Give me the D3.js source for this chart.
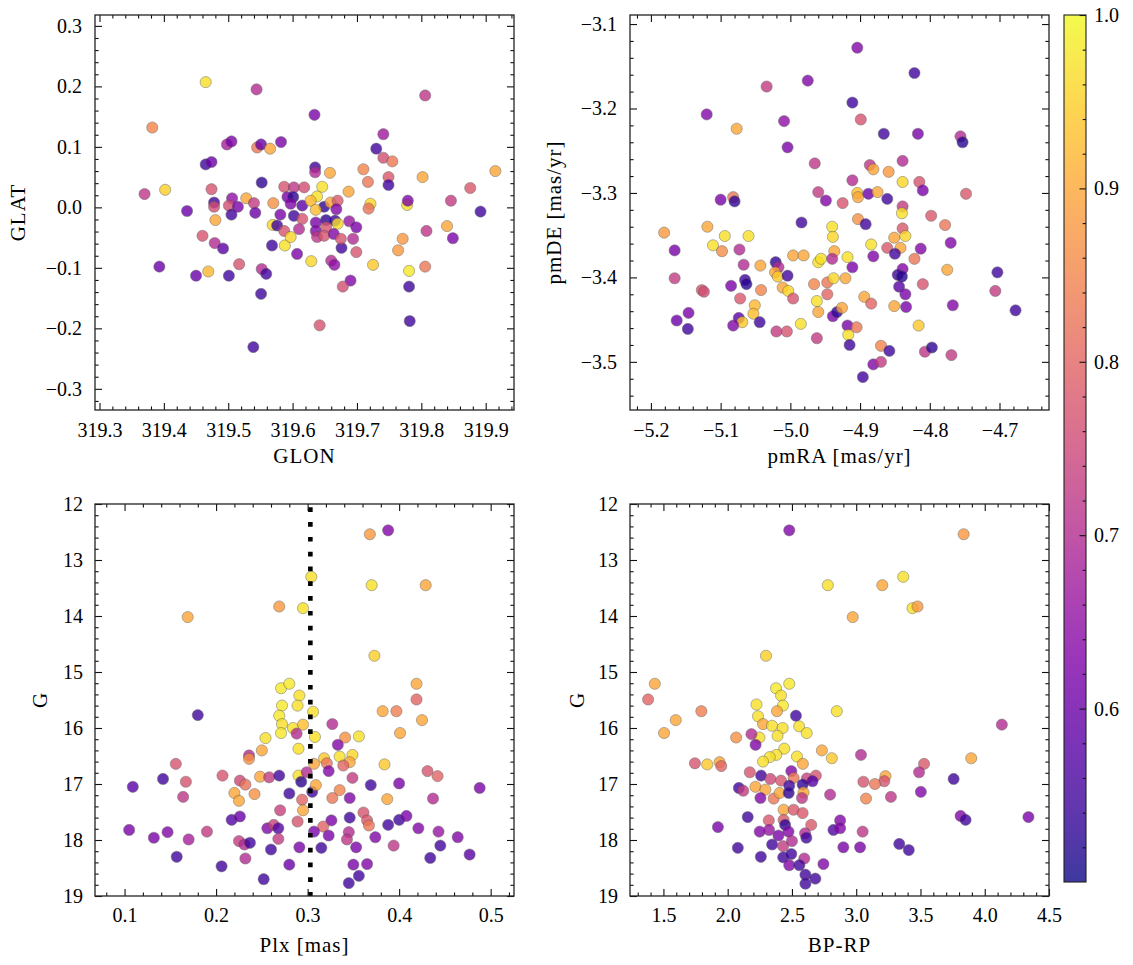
<!DOCTYPE html>
<html>
<head>
<meta charset="utf-8">
<script src="https://cdn.jsdelivr.net/npm/d3@7"></script>
<style>
  body { margin: 0; background: #fff; }
  text { font-family: "Liberation Serif", "DejaVu Serif", serif; }
</style>
</head>
<body>
<script>
// ---- data ----
// panel 1: galactic position
const glon = [319.465,319.544,319.382,319.498,319.505,319.545,319.551,319.565,319.582,319.465,319.474,319.552,319.370,319.402,319.474,319.506,319.528,319.478,319.478,319.501,319.515,319.540,319.570,319.436,319.505,319.542,319.480,319.460,319.479,319.492,319.568,319.588,319.607,319.393,319.517,319.469,319.450,319.501,319.552,319.559,319.551,319.539,
  319.806,319.634,319.741,319.730,319.741,319.755,319.635,319.635,319.658,319.710,319.717,319.749,319.749,319.802,319.915,319.876,319.687,319.646,319.721,319.718,319.778,319.779,319.846,319.892,319.840,319.808,319.849,319.771,319.764,319.688,319.699,319.694,319.676,319.699,319.629,319.660,319.665,319.725,319.781,319.806,319.781,319.690,319.678,319.782,319.642,319.666,319.652,
  319.587,319.602,319.618,319.638,319.592,319.601,319.597,319.615,319.628,319.649,319.659,319.670,319.668,319.581,319.602,319.615,319.636,319.569,319.576,319.587,319.610,319.636,319.636,319.652,319.670,319.597,319.638,319.649,319.664,319.675];
const glat = [0.207,0.195,0.132,0.104,0.109,0.099,0.104,0.097,0.108,0.071,0.075,0.041,0.022,0.029,0.030,0.015,0.015,0.008,0.001,0.003,0.001,0.007,0.007,-0.006,-0.012,-0.009,-0.021,-0.047,-0.059,-0.068,-0.063,-0.063,-0.077,-0.098,-0.094,-0.106,-0.113,-0.113,-0.102,-0.110,-0.143,-0.231,
  0.185,0.153,0.121,0.097,0.082,0.076,0.066,0.058,0.057,0.063,0.042,0.050,0.037,0.050,0.060,0.032,0.026,0.034,0.006,-0.002,0.004,0.011,0.011,-0.007,-0.031,-0.039,-0.051,-0.052,-0.071,-0.023,-0.033,-0.052,-0.067,-0.074,-0.089,-0.088,-0.095,-0.095,-0.105,-0.098,-0.131,-0.121,-0.131,-0.188,-0.195,-0.022,-0.021,
  0.034,0.033,0.033,0.018,0.017,0.017,0.006,0.003,0.011,0.001,0.008,0.011,-0.003,-0.012,-0.014,-0.019,-0.004,-0.029,-0.030,-0.039,-0.036,-0.025,-0.039,-0.033,-0.027,-0.049,-0.049,-0.047,-0.044,-0.052];
const probGal = [0.97,0.70,0.85,0.68,0.62,0.83,0.60,0.90,0.62,0.55,0.60,0.53,0.72,0.95,0.77,0.65,0.90,0.55,0.76,0.76,0.62,0.73,0.87,0.60,0.55,0.60,0.90,0.77,0.70,0.58,0.55,0.97,0.62,0.60,0.77,0.92,0.60,0.55,0.70,0.55,0.55,0.55,
  0.72,0.62,0.67,0.55,0.76,0.83,0.55,0.70,0.90,0.85,0.83,0.78,0.55,0.90,0.90,0.78,0.90,0.97,0.96,0.82,0.97,0.63,0.73,0.55,0.90,0.72,0.62,0.88,0.88,0.66,0.62,0.70,0.55,0.77,0.96,0.70,0.65,0.94,0.98,0.83,0.55,0.63,0.76,0.55,0.77,0.55,0.53,
  0.77,0.72,0.76,0.97,0.62,0.53,0.63,0.58,0.92,0.53,0.90,0.78,0.63,0.62,0.55,0.77,0.93,0.96,0.55,0.77,0.70,0.62,0.63,0.77,0.97,0.96,0.72,0.77,0.63,0.77];

// panel 2: proper motions
const pmra = [-4.975,-5.034,-5.120,-5.009,-5.077,-5.004,-4.965,-4.960,-4.949,-5.100,-5.082,-5.080,-4.984,-5.181,-5.119,-5.094,-5.060,-4.940,-4.939,-5.166,-5.111,-5.098,-5.073,-4.937,-4.996,-4.981,-5.067,-5.043,-5.021,-5.017,-5.022,-5.018,-4.960,-4.956,-4.940,-5.004,-5.166,-5.085,-5.065,-5.063,-5.042,-5.127,-5.124,-5.072,-5.011,-5.003,-4.996,-4.966,-4.947,-4.938,-4.947,-4.962,-5.051,-5.053,-4.960,-5.146,-5.163,-5.147,-5.074,-5.069,-5.082,-5.044,-4.985,-5.020,-5.005,-4.962,-4.939,-4.933,
  -4.904,-4.822,-4.911,-4.899,-4.866,-4.817,-4.756,-4.753,-4.839,-4.886,-4.881,-4.859,-4.911,-4.839,-4.815,-4.810,-4.748,-4.904,-4.903,-4.888,-4.875,-4.861,-4.925,-4.839,-4.840,-4.798,-4.778,-4.903,-4.892,-4.839,-4.851,-4.835,-4.842,-4.884,-4.861,-4.850,-4.881,-4.813,-4.770,-4.822,-4.918,-4.911,-4.839,-4.846,-4.840,-4.775,-4.703,-4.921,-4.844,-4.810,-4.835,-4.706,-4.894,-4.884,-4.851,-4.834,-4.767,-4.677,-4.926,-4.918,-4.917,-4.905,-4.915,-4.816,-4.870,-4.858,-4.807,-4.797,-4.769,-4.881,-4.870,-4.896];
const pmde = [-3.167,-3.174,-3.207,-3.215,-3.224,-3.246,-3.265,-3.299,-3.309,-3.308,-3.305,-3.310,-3.335,-3.347,-3.340,-3.351,-3.351,-3.340,-3.352,-3.368,-3.362,-3.369,-3.367,-3.369,-3.374,-3.374,-3.385,-3.386,-3.382,-3.388,-3.394,-3.399,-3.382,-3.378,-3.378,-3.398,-3.401,-3.410,-3.403,-3.408,-3.415,-3.415,-3.417,-3.425,-3.412,-3.416,-3.425,-3.408,-3.406,-3.401,-3.420,-3.428,-3.433,-3.443,-3.441,-3.442,-3.451,-3.461,-3.448,-3.453,-3.457,-3.453,-3.455,-3.464,-3.464,-3.472,-3.446,-3.441,
  -3.128,-3.158,-3.193,-3.213,-3.230,-3.230,-3.233,-3.240,-3.262,-3.267,-3.272,-3.275,-3.285,-3.287,-3.287,-3.297,-3.301,-3.300,-3.305,-3.301,-3.299,-3.307,-3.312,-3.316,-3.324,-3.327,-3.338,-3.331,-3.337,-3.342,-3.353,-3.351,-3.365,-3.361,-3.365,-3.372,-3.375,-3.366,-3.359,-3.378,-3.376,-3.388,-3.390,-3.397,-3.399,-3.391,-3.394,-3.401,-3.411,-3.408,-3.420,-3.416,-3.423,-3.431,-3.434,-3.435,-3.433,-3.439,-3.436,-3.457,-3.468,-3.459,-3.480,-3.457,-3.481,-3.487,-3.488,-3.483,-3.492,-3.503,-3.500,-3.518];
const probPm = [0.63,0.73,0.63,0.65,0.90,0.62,0.72,0.73,0.63,0.62,0.83,0.53,0.55,0.88,0.90,0.97,0.97,0.97,0.96,0.62,0.97,0.86,0.70,0.90,0.90,0.90,0.70,0.90,0.53,0.70,0.90,0.94,0.97,0.97,0.70,0.55,0.73,0.62,0.55,0.52,0.85,0.78,0.76,0.78,0.90,0.96,0.77,0.85,0.83,0.96,0.80,0.97,0.92,0.93,0.90,0.62,0.60,0.55,0.58,0.94,0.63,0.55,0.97,0.73,0.77,0.73,0.62,0.53,
  0.63,0.55,0.55,0.77,0.55,0.62,0.70,0.52,0.70,0.72,0.90,0.88,0.70,0.96,0.77,0.62,0.78,0.93,0.90,0.60,0.90,0.55,0.77,0.73,0.97,0.78,0.83,0.87,0.55,0.78,0.90,0.96,0.90,0.97,0.78,0.55,0.63,0.63,0.63,0.83,0.97,0.62,0.63,0.55,0.52,0.90,0.55,0.90,0.58,0.77,0.62,0.73,0.90,0.80,0.90,0.62,0.63,0.55,0.90,0.62,0.97,0.83,0.55,0.94,0.85,0.55,0.72,0.53,0.73,0.63,0.73,0.55];

// panel 3: parallax vs magnitude
const plx = [0.169,0.269,0.295,0.271,0.280,0.291,0.272,0.289,0.269,0.272,0.271,0.284,0.295,0.180,0.288,0.254,0.290,0.250,0.236,0.236,0.156,0.142,0.109,0.167,0.164,0.207,0.226,0.232,0.248,0.258,0.269,0.290,0.293,0.220,0.225,0.242,0.280,0.294,0.270,0.295,0.217,0.226,0.105,0.132,0.147,0.170,0.190,0.256,0.263,0.268,0.268,0.289,0.225,0.231,0.237,0.260,0.291,0.157,0.232,0.206,0.280,0.252,
  0.388,0.368,0.304,0.370,0.429,0.373,0.419,0.419,0.382,0.397,0.425,0.401,0.306,0.308,0.327,0.341,0.333,0.356,0.335,0.349,0.318,0.321,0.346,0.339,0.307,0.384,0.323,0.349,0.299,0.431,0.442,0.369,0.400,0.488,0.305,0.309,0.335,0.327,0.346,0.387,0.437,0.361,0.365,0.367,0.346,0.326,0.317,0.307,0.388,0.400,0.408,0.421,0.443,0.464,0.323,0.345,0.343,0.353,0.374,0.394,0.315,0.445,0.434,0.477,0.350,0.365,0.356,0.345];
const gPlx = [14.02,13.83,13.86,15.29,15.21,15.42,15.60,15.60,15.78,15.93,16.09,16.00,15.94,15.77,16.10,16.18,16.37,16.40,16.49,16.55,16.64,16.91,17.05,16.96,17.23,16.85,16.94,17.01,16.87,16.88,16.85,16.85,16.96,17.16,17.30,17.18,17.17,17.28,17.47,17.47,17.64,17.58,17.82,17.96,17.86,17.99,17.85,17.79,17.73,17.79,17.98,17.67,18.02,18.08,18.05,18.17,18.13,18.30,18.33,18.47,18.44,18.70,
  12.47,12.54,13.30,13.45,13.45,14.71,15.21,15.49,15.70,15.70,15.86,16.09,15.71,16.16,15.93,16.17,16.30,16.15,16.51,16.48,16.54,16.63,16.61,16.67,16.64,16.65,16.77,16.89,16.79,16.77,16.86,17.02,16.99,17.07,17.14,17.02,17.11,17.25,17.25,17.27,17.26,17.51,17.65,17.74,17.60,17.65,17.76,17.85,17.73,17.64,17.57,17.79,17.85,17.95,17.92,17.86,17.99,18.13,17.95,18.10,18.14,18.10,18.32,18.26,18.44,18.43,18.64,18.77];
const probPlx = [0.90,0.88,0.97,0.98,0.98,0.97,0.98,0.97,0.98,0.97,0.98,0.97,0.93,0.55,0.70,0.97,0.97,0.90,0.70,0.87,0.77,0.55,0.58,0.77,0.72,0.77,0.75,0.82,0.90,0.73,0.55,0.97,0.53,0.90,0.90,0.87,0.55,0.80,0.74,0.90,0.57,0.60,0.62,0.62,0.63,0.68,0.73,0.63,0.74,0.57,0.73,0.77,0.73,0.70,0.55,0.55,0.62,0.55,0.70,0.55,0.60,0.55,
  0.63,0.88,0.97,0.97,0.90,0.95,0.90,0.80,0.90,0.84,0.90,0.90,0.97,0.97,0.70,0.87,0.63,0.97,0.97,0.96,0.94,0.83,0.90,0.80,0.90,0.94,0.63,0.73,0.70,0.77,0.80,0.55,0.62,0.62,0.55,0.90,0.85,0.83,0.63,0.90,0.70,0.77,0.78,0.83,0.55,0.62,0.80,0.62,0.55,0.55,0.62,0.63,0.66,0.63,0.62,0.70,0.72,0.62,0.63,0.72,0.55,0.55,0.55,0.58,0.62,0.63,0.55,0.55];
const plxCut = 0.303;

// panel 4: colour-magnitude diagram
const bprp = [2.479,2.779,2.298,1.433,1.381,1.596,1.505,1.795,2.376,2.479,2.415,2.430,2.224,2.384,2.531,2.236,2.275,2.345,2.428,2.388,2.556,2.615,2.247,2.185,2.217,2.066,2.440,2.378,2.327,2.275,2.539,2.733,2.810,2.585,1.745,1.841,1.937,1.950,2.172,2.260,2.332,2.415,2.495,2.513,2.616,2.686,2.660,2.583,2.479,2.087,2.121,2.216,2.293,2.255,2.358,2.404,2.475,2.590,2.578,2.797,2.435,2.513,2.583,2.156,1.924,2.320,2.435,2.447,2.650,2.249,2.322,2.395,2.473,2.602,2.612,2.346,2.431,2.500,2.079,2.258,2.432,2.495,2.596,2.479,2.558,2.605,2.682,2.605,2.745,
  3.836,3.366,3.203,3.438,3.477,2.973,2.849,4.133,3.037,3.895,3.528,3.489,3.228,3.218,3.056,3.146,3.076,3.270,3.503,3.758,3.812,3.851,4.340,2.875,2.823,2.875,3.050,2.900,3.030,3.335,3.409];
const gCmd = [12.47,13.45,14.71,15.21,15.49,15.86,16.09,15.70,15.29,15.21,15.42,15.60,15.58,15.70,15.78,15.79,15.93,15.96,16.00,16.14,15.97,16.09,16.17,16.11,16.30,16.17,16.37,16.48,16.52,16.60,16.51,16.40,16.54,16.64,16.63,16.65,16.61,16.68,16.79,16.85,16.91,16.94,16.77,16.89,16.90,16.85,16.95,17.01,17.03,17.07,17.12,17.05,17.10,17.25,17.26,17.16,17.16,17.15,17.25,17.19,17.46,17.46,17.52,17.59,17.77,17.65,17.64,17.73,17.73,17.85,17.82,17.92,17.85,17.88,17.96,18.08,18.11,18.02,18.14,18.30,18.31,18.25,18.33,18.45,18.45,18.62,18.69,18.78,18.43,
  12.54,13.30,13.45,13.86,13.83,14.02,15.70,15.94,16.48,16.54,16.64,16.79,16.86,16.95,16.96,17.00,17.26,17.23,17.14,16.91,17.57,17.64,17.59,17.65,17.82,17.79,17.85,18.13,18.13,18.07,18.18];
const probCmd = [0.63,0.97,0.95,0.90,0.80,0.90,0.90,0.84,0.98,0.98,0.97,0.98,0.97,0.90,0.55,0.97,0.90,0.97,0.97,0.97,0.97,0.97,0.97,0.70,0.63,0.87,0.97,0.97,0.97,0.97,0.97,0.90,0.94,0.90,0.77,0.94,0.90,0.80,0.77,0.55,0.75,0.77,0.63,0.83,0.74,0.77,0.57,0.53,0.55,0.55,0.73,0.90,0.90,0.63,0.83,0.90,0.53,0.90,0.72,0.70,0.90,0.78,0.78,0.55,0.62,0.78,0.78,0.53,0.78,0.63,0.66,0.62,0.63,0.70,0.55,0.55,0.73,0.70,0.55,0.55,0.55,0.55,0.70,0.63,0.55,0.55,0.55,0.55,0.63,
  0.88,0.97,0.90,0.97,0.88,0.90,0.97,0.70,0.70,0.90,0.78,0.70,0.90,0.77,0.77,0.83,0.85,0.72,0.63,0.55,0.63,0.55,0.62,0.63,0.57,0.63,0.72,0.62,0.62,0.55,0.55];

// tick values
const glonTicks = [319.3, 319.4, 319.5, 319.6, 319.7, 319.8, 319.9];
const glatTicks = [-0.3, -0.2, -0.1, 0.0, 0.1, 0.2, 0.3];
const pmraTicks = [-5.2, -5.1, -5.0, -4.9, -4.8, -4.7];
const pmdeTicks = [-3.5, -3.4, -3.3, -3.2, -3.1];
const plxTicks = [0.1, 0.2, 0.3, 0.4, 0.5];
const gTicks = [12, 13, 14, 15, 16, 17, 18, 19];
const bprpTicks = [1.5, 2.0, 2.5, 3.0, 3.5, 4.0, 4.5];
const probTicks = [0.6, 0.7, 0.8, 0.9, 1.0];

// ---- drawing ----
const W = 1133, H = 965;
const svg = d3.select("body").append("svg").attr("width", W).attr("height", H);
const FS = 20;      // tick labels
const LFS = 21;     // axis labels
const probLo = 0.5, probHi = 1.0;
const colorOf = p => d3.interpolatePlasma((p - probLo) / (probHi - probLo));

function minorTicks(domain, step, majors) {
  const lo = Math.min(domain[0], domain[1]), hi = Math.max(domain[0], domain[1]);
  return d3.range(Math.ceil(lo / step - 1e-6), Math.floor(hi / step + 1e-6) + 1)
    .map(i => +(i * step).toFixed(6))
    .filter(v => !majors.some(m => Math.abs(m - v) < step / 10));
}

let clipId = 0;
function panel(o) {
  const x = d3.scaleLinear().domain(o.xDom).range([o.x0, o.x1]);
  const y = d3.scaleLinear().domain(o.yDom).range([o.y1, o.y0]);
  const w = o.x1 - o.x0, h = o.y1 - o.y0;
  const g = svg.append("g");
  const id = "clip" + (clipId++);
  g.append("clipPath").attr("id", id).append("rect")
    .attr("x", o.x0).attr("y", o.y0).attr("width", w).attr("height", h);

  g.append("g").attr("clip-path", `url(#${id})`)
    .selectAll("circle")
    .data(d3.range(o.xs.length))
    .join("circle")
    .attr("cx", i => x(o.xs[i]))
    .attr("cy", i => y(o.ys[i]))
    .attr("r", 5.6)
    .attr("fill", i => colorOf(o.ps[i]))
    .attr("stroke", "#4a4a4a")
    .attr("stroke-width", 0.5)
    .attr("opacity", 0.8);

  if (o.extra) o.extra(g, x, y);

  const xMinor = minorTicks(o.xDom, o.xStep, o.xTicks);
  const yMinor = minorTicks(o.yDom, o.yStep, o.yTicks);
  const axes = [
    [d3.axisBottom(x).tickValues(o.xTicks).tickFormat(d3.format(o.xFmt)), `translate(0,${o.y1})`, true],
    [d3.axisBottom(x).tickValues(xMinor).tickFormat(""), `translate(0,${o.y1})`, false],
    [d3.axisTop(x).tickValues(o.xTicks).tickFormat(""), `translate(0,${o.y0})`, true],
    [d3.axisTop(x).tickValues(xMinor).tickFormat(""), `translate(0,${o.y0})`, false],
    [d3.axisLeft(y).tickValues(o.yTicks).tickFormat(d3.format(o.yFmt)), `translate(${o.x0},0)`, true],
    [d3.axisLeft(y).tickValues(yMinor).tickFormat(""), `translate(${o.x0},0)`, false],
    [d3.axisRight(y).tickValues(o.yTicks).tickFormat(""), `translate(${o.x1},0)`, true],
    [d3.axisRight(y).tickValues(yMinor).tickFormat(""), `translate(${o.x1},0)`, false]
  ];
  axes.forEach(([ax, tr, major]) => {
    const a = g.append("g").attr("transform", tr)
      .call(ax.tickSize(major ? -7 : -3.6).tickSizeOuter(0).tickPadding(o.pad || 12));
    a.select(".domain").remove();
    a.selectAll("line").attr("stroke", "#111").attr("stroke-width", 1.1);
    a.selectAll("text").attr("font-size", FS).attr("fill", "#000")
      .attr("font-family", '"Liberation Serif", serif');
  });

  g.append("rect").attr("x", o.x0).attr("y", o.y0).attr("width", w).attr("height", h)
    .attr("fill", "none").attr("stroke", "#222").attr("stroke-width", 1.3);

  g.append("text").attr("x", (o.x0 + o.x1) / 2).attr("y", o.xLabY)
    .attr("text-anchor", "middle").attr("font-size", LFS)
    .attr("letter-spacing", 1).text(o.xLab);
  g.append("text")
    .attr("transform", `translate(${o.yLabX},${(o.y0 + o.y1) / 2}) rotate(-90)`)
    .attr("text-anchor", "middle").attr("font-size", LFS)
    .attr("letter-spacing", 1).text(o.yLab);
}

panel({
  x0: 95, x1: 514, y0: 15, y1: 410,
  xDom: [319.293, 319.944], yDom: [-0.335, 0.318],
  xTicks: glonTicks, yTicks: glatTicks, xStep: 0.02, yStep: 0.02,
  xFmt: ".1f", yFmt: ".1f",
  xs: glon, ys: glat, ps: probGal,
  xLab: "GLON", yLab: "GLAT", xLabY: 463, yLabX: 25, pad: 13
});

panel({
  x0: 630, x1: 1049, y0: 15, y1: 410,
  xDom: [-5.230, -4.629], yDom: [-3.557, -3.0893],
  xTicks: pmraTicks, yTicks: pmdeTicks, xStep: 0.02, yStep: 0.02,
  xFmt: ".1f", yFmt: ".1f",
  xs: pmra, ys: pmde, ps: probPm,
  xLab: "pmRA [mas/yr]", yLab: "pmDE [mas/yr]", xLabY: 463, yLabX: 561, pad: 13
});

panel({
  x0: 95, x1: 514, y0: 504, y1: 896,
  xDom: [0.0677, 0.5255], yDom: [19.0, 12.0],
  xTicks: plxTicks, yTicks: gTicks, xStep: 0.02, yStep: 0.2,
  xFmt: ".1f", yFmt: "d",
  xs: plx, ys: gPlx, ps: probPlx,
  xLab: "Plx [mas]", yLab: "G", xLabY: 952, yLabX: 47, pad: 12,
  extra: (g, x, y) => {
    g.append("line")
      .attr("x1", x(plxCut)).attr("x2", x(plxCut))
      .attr("y1", 504).attr("y2", 896)
      .attr("stroke", "#000").attr("stroke-width", 4.6)
      .attr("stroke-dasharray", "4.7 10.1").attr("stroke-dashoffset", -3.3);
  }
});

panel({
  x0: 630, x1: 1049, y0: 504, y1: 896,
  xDom: [1.24, 4.5], yDom: [19.0, 12.0],
  xTicks: bprpTicks, yTicks: gTicks, xStep: 0.1, yStep: 0.2,
  xFmt: ".1f", yFmt: "d",
  xs: bprp, ys: gCmd, ps: probCmd,
  xLab: "BP-RP", yLab: "G", xLabY: 952, yLabX: 584, pad: 12
});

// ---- colour bar ----
const cb = { x: 1064, y: 15, w: 22, h: 867 };
const cScale = d3.scaleLinear().domain([probLo, probHi]).range([cb.y + cb.h, cb.y]);
const defs = svg.append("defs");
const grad = defs.append("linearGradient").attr("id", "cbgrad")
  .attr("x1", 0).attr("y1", 1).attr("x2", 0).attr("y2", 0);
d3.range(0, 1.0001, 0.05).forEach(t => {
  grad.append("stop").attr("offset", t).attr("stop-color", d3.interpolatePlasma(t));
});
svg.append("rect").attr("x", cb.x).attr("y", cb.y).attr("width", cb.w).attr("height", cb.h)
  .attr("fill", "url(#cbgrad)").attr("opacity", 0.8);
const cbMinor = minorTicks([probLo, probHi], 0.02, probTicks).filter(v => v > probLo + 0.001);
[[probTicks, -6.5, true], [cbMinor, -3.3, false]].forEach(([vals, size, major]) => {
  const a = svg.append("g").attr("transform", `translate(${cb.x + cb.w},0)`)
    .call(d3.axisRight(cScale).tickValues(vals).tickSize(size).tickSizeOuter(0)
      .tickPadding(8).tickFormat(major ? d3.format(".1f") : ""));
  a.select(".domain").remove();
  a.selectAll("line").attr("stroke", "#111").attr("stroke-width", 1.1);
  a.selectAll("text").attr("font-size", FS).attr("fill", "#000")
    .attr("font-family", '"Liberation Serif", serif');
});
svg.append("rect").attr("x", cb.x).attr("y", cb.y).attr("width", cb.w).attr("height", cb.h)
  .attr("fill", "none").attr("stroke", "#222").attr("stroke-width", 1.1);
</script>
</body>
</html>
